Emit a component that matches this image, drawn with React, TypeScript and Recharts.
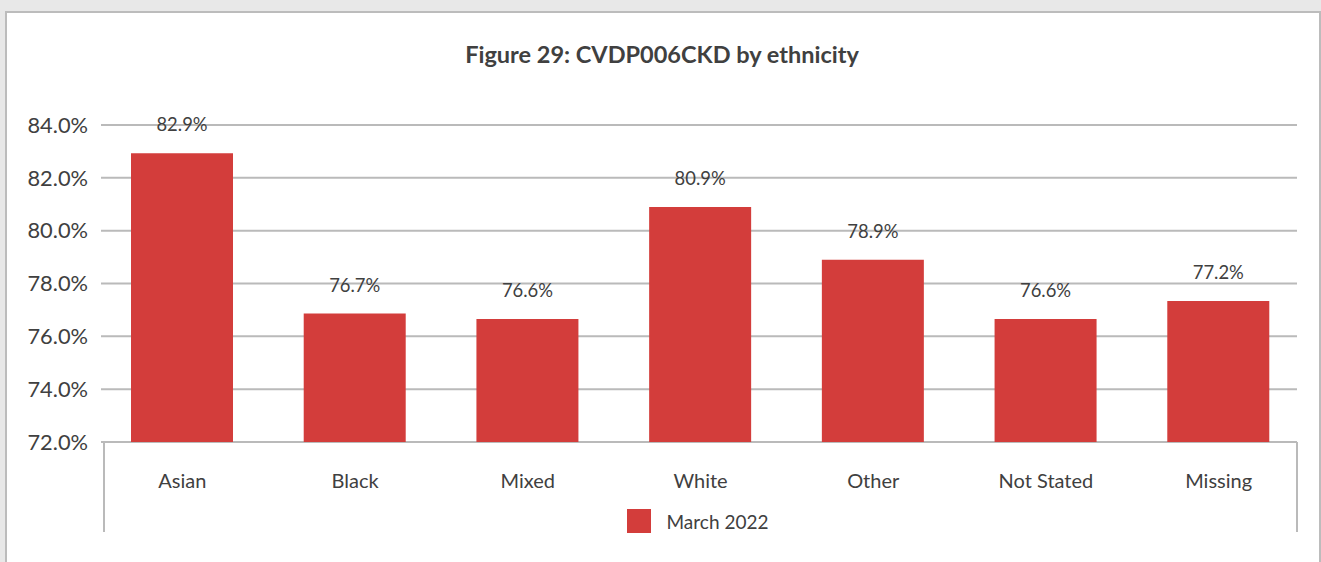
import { BarChart, Bar, XAxis, YAxis, CartesianGrid, Legend, LabelList } from 'recharts'

const categories = ['Asian', 'Black', 'Mixed', 'White', 'Other', 'Not Stated', 'Missing']
// bar heights, labels as printed above the bars
const march2022 = [82.93, 76.86, 76.66, 80.9, 78.9, 76.66, 77.34]
const march2022Labels = ['82.9%', '76.7%', '76.6%', '80.9%', '78.9%', '76.6%', '77.2%']
const yTicks = [72, 74, 76, 78, 80, 82, 84]

const TEXT = '#404040'
const GRID = '#bababa'
const BAR = '#d33d3b'
const FONT = 'Lato, "Open Sans", sans-serif'

const data = categories.map((name, i) => ({
  name,
  value: march2022[i],
  label: march2022Labels[i],
}))

// gridlines stop a little short of the category bands, like the source
function GridLine(props: any) {
  const { x1, x2, y1, y2, stroke, strokeWidth } = props
  return <line x1={x1 + 5} x2={x2 - 8} y1={y1} y2={y2} stroke={stroke} strokeWidth={strokeWidth} />
}

export default function App() {
  return (
    <div
      style={{
        position: 'absolute',
        left: 0,
        top: 0,
        width: 1321,
        height: 562,
        background: '#e8e8e8',
        overflow: 'hidden',
        fontFamily: FONT,
      }}
    >
      <div
        style={{
          position: 'absolute',
          left: 5,
          top: 11,
          width: 1316,
          height: 600,
          boxSizing: 'border-box',
          border: '2px solid #bcbcbc',
          background: '#fff',
        }}
      />
      <div
        style={{
          position: 'absolute',
          left: 5,
          width: 1314,
          top: 40,
          textAlign: 'center',
          fontSize: 23.5,
          fontWeight: 700,
          color: TEXT,
        }}
      >
        Figure 29: CVDP006CKD by ethnicity
      </div>
      {/* axis frame verticals below the plot */}
      <div style={{ position: 'absolute', left: 103, top: 442, width: 2, height: 90, background: GRID }} />
      <div style={{ position: 'absolute', left: 1296, top: 442, width: 2, height: 90, background: GRID }} />
      <div style={{ position: 'absolute', left: 0, top: 0 }}>
        <BarChart
          width={1321}
          height={562}
          data={data}
          margin={{ top: 125, right: 16, bottom: 0, left: 16 }}
          barSize={102}
        >
          <CartesianGrid
            horizontal={(p: any) => <GridLine key={p.key} {...p} />}
            vertical={false}
            stroke={GRID}
            strokeWidth={2}
          />
          <XAxis
            dataKey="name"
            height={120}
            axisLine={false}
            tickLine={false}
            tickSize={0}
            tickMargin={32}
            tick={{ fontSize: 20, fill: TEXT, fontFamily: FONT }}
            interval={0}
          />
          <YAxis
            width={80}
            domain={[72, 84]}
            ticks={yTicks}
            axisLine={false}
            tickLine={false}
            tickSize={0}
            tickMargin={8}
            tickFormatter={(v: number) => v.toFixed(1) + '%'}
            tick={{ fontSize: 21.8, fill: TEXT, fontFamily: FONT }}
            allowDataOverflow
          />
          <Legend
            layout="horizontal"
            verticalAlign="middle"
            align="center"
            wrapperStyle={{ position: 'absolute', top: 509, left: 37, width: 1321 }}
            content={() => (
              <div style={{ display: 'flex', justifyContent: 'center', alignItems: 'center', gap: 16, fontFamily: FONT }}>
                <div style={{ width: 24, height: 24, background: BAR }} />
                <span style={{ fontSize: 19, color: TEXT }}>March 2022</span>
              </div>
            )}
          />
          <Bar dataKey="value" name="March 2022" fill={BAR} isAnimationActive={false}>
            <LabelList dataKey="label" position="top" offset={22} fill={TEXT} fontSize={18.4} fontFamily={FONT} />
          </Bar>
        </BarChart>
      </div>
    </div>
  )
}
